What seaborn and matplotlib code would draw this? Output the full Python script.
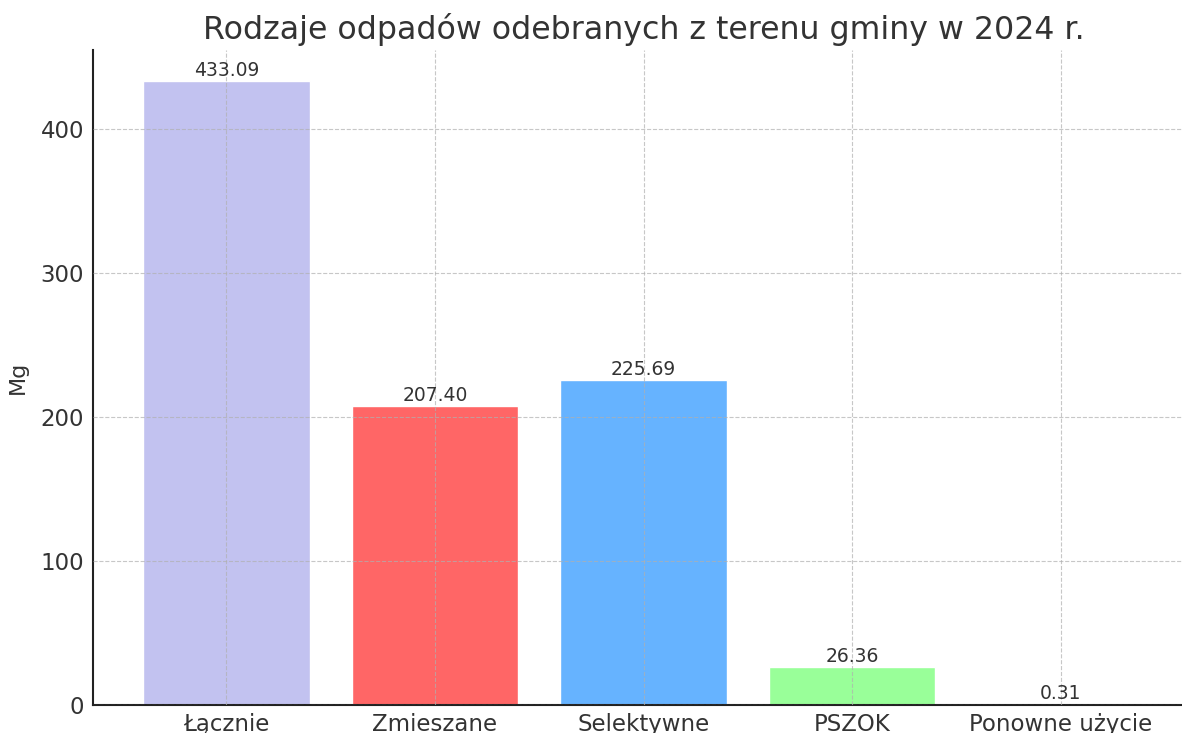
import matplotlib
matplotlib.use("Agg")
import matplotlib.pyplot as plt
import seaborn as sns

categories = ["Łącznie", "Zmieszane", "Selektywne", "PSZOK", "Ponowne użycie"]
values = [433.09, 207.40, 225.69, 26.36, 0.31]
colors = ["#c2c2f0", "#ff6666", "#66b3ff", "#99ff99", "#ffcc99"]
title = "Rodzaje odpadów odebranych z terenu gminy w 2024 r."
ylabel = "Mg"

sns.set_style("white")
plt.rcParams["font.family"] = ["DejaVu Sans"]
text_color = "#333333"

fig = plt.figure(figsize=(11.82, 7.33), dpi=100)
ax = fig.add_axes([0.0787, 0.0382, 0.9315, 0.8936])

sns.barplot(x=categories, y=values, hue=categories, palette=colors,
            saturation=1, width=0.8, legend=False, ax=ax, zorder=1)

ax.set_xlim(-0.64, 4.64)
ax.set_ylim(0, max(values) * 1.05)

ax.grid(True, linestyle="--", color="#b0b0b0", linewidth=0.8, alpha=0.7)
ax.set_axisbelow(False)

for cont in ax.containers:
    ax.bar_label(cont, fmt="%.2f", padding=1, fontsize=13.5, color=text_color)

ax.set_title(title, fontsize=22.8, color=text_color, pad=8)
ax.set_ylabel(ylabel, fontsize=16, color=text_color, labelpad=9)
ax.set_xlabel("")
ax.tick_params(axis="both", direction="in", length=6, width=1.2,
               labelsize=16.5, labelcolor=text_color, color="#222222")
ax.tick_params(axis="y", pad=6.5)
ax.tick_params(axis="x", pad=5.5)
ax.set_yticks([0, 100, 200, 300, 400])

for side in ["top", "right"]:
    ax.spines[side].set_visible(False)
for side in ["left", "bottom"]:
    ax.spines[side].set_color("#222222")
    ax.spines[side].set_linewidth(1.5)

fig.savefig("out.png", dpi=100)
